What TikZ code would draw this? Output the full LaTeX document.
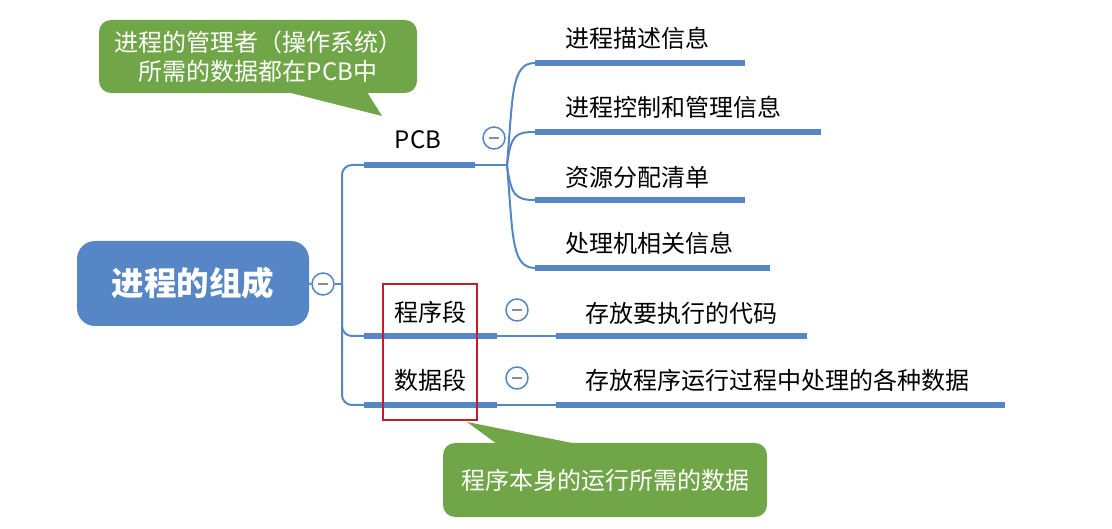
\documentclass[tikz,border=0pt]{standalone}
\usepackage{fontspec}
\setmainfont{Noto Sans CJK SC}
\definecolor{mmblue}{RGB}{86,134,198}
\definecolor{notegreen}{RGB}{112,166,72}
\definecolor{redbox}{RGB}{196,30,45}
\definecolor{minusgray}{RGB}{130,140,165}
\begin{document}
\begin{tikzpicture}[x=1pt,y=-1pt,
  blueline/.style={draw=mmblue, line width=2pt},
  thickline/.style={draw=mmblue, line width=5.8pt},
  collapse/.style={circle, draw=mmblue, fill=white, line width=1.5pt, minimum size=22pt, inner sep=0pt,
    path picture={\draw[line width=1.6pt, minusgray] ([xshift=-5pt]path picture bounding box.center) -- ([xshift=5pt]path picture bounding box.center);}},
  topic/.style={font=\fontsize{24}{28}\selectfont, text=black, inner sep=0pt},
  note/.style={fill=notegreen, rounded corners=12pt, text=white, font=\fontsize{24}{29}\selectfont, align=center, inner sep=0pt},
]
\useasboundingbox (0,0) rectangle (1112,529);

% root
\node[fill=mmblue, rounded corners=18pt, minimum width=232pt, minimum height=85pt, inner sep=0pt,
  text=white, font=\fontsize{32.5}{36}\selectfont\bfseries] (root) at (193,283.5) {进程的组成};
\node[collapse] (rc) at (323,284) {};
\coordinate (tr) at (342,284);

% level-1 anchors
\coordinate (pcbL) at (364,165);
\coordinate (pcbR) at (475,165);
\coordinate (pcbJ) at (507,165);
\coordinate (cxL) at (364,336);
\coordinate (cxR) at (497,336);
\coordinate (sjL) at (364,405);
\coordinate (sjR) at (497,405);

% level-2 anchors
\coordinate (a1L) at (535,63);  \coordinate (a1R) at (745,63);
\coordinate (a2L) at (535,132); \coordinate (a2R) at (821,132);
\coordinate (a3L) at (535,200); \coordinate (a3R) at (745,200);
\coordinate (a4L) at (535,268); \coordinate (a4R) at (770,268);
\coordinate (b1L) at (556,336); \coordinate (b1R) at (807,336);
\coordinate (b2L) at (556,405); \coordinate (b2R) at (1005,405);

% connectors
\draw[blueline] (root.east) -- (rc.west);
\draw[blueline] (rc.east) -- (tr);
\draw[blueline, rounded corners=10pt] (tr) |- (pcbL);
\draw[blueline, rounded corners=10pt] (tr) |- (cxL);
\draw[blueline, rounded corners=10pt] (tr) |- (sjL);
\draw[blueline] (pcbR) -- (pcbJ);
\draw[blueline] (pcbJ) .. controls +(6,-70) and +(-24,0) .. (a1L);
\draw[blueline] (pcbJ) .. controls +(4,-30) and +(-20,0) .. (a2L);
\draw[blueline] (pcbJ) .. controls +(4,30) and +(-20,0) .. (a3L);
\draw[blueline] (pcbJ) .. controls +(6,70) and +(-24,0) .. (a4L);
\draw[blueline] (cxR) -- (b1L);
\draw[blueline] (sjR) -- (b2L);

% underlines
\draw[thickline] (pcbL) -- (pcbR);
\draw[thickline] (cxL) -- (cxR);
\draw[thickline] (sjL) -- (sjR);
\draw[thickline] (a1L) -- (a1R);
\draw[thickline] (a2L) -- (a2R);
\draw[thickline] (a3L) -- (a3R);
\draw[thickline] (a4L) -- (a4R);
\draw[thickline] (b1L) -- (b1R);
\draw[thickline] (b2L) -- (b2R);

% level-1 texts and collapse buttons
\node[topic] (pcb) at (418,140) {PCB};
\node[collapse] (pcbc) at (494,138) {};
\node[topic] (cx) at (430,312) {程序段};
\node[collapse] (cxc) at (517,310) {};
\node[topic] (sj) at (430,380) {数据段};
\node[collapse] (sjc) at (517,378) {};

% level-2 texts
\node[topic, anchor=west] (a1) at (565,38) {进程描述信息};
\node[topic, anchor=west] (a2) at (565,107) {进程控制和管理信息};
\node[topic, anchor=west] (a3) at (565,177) {资源分配清单};
\node[topic, anchor=west] (a4) at (565,243) {处理机相关信息};
\node[topic, anchor=west] (b1) at (585,313) {存放要执行的代码};
\node[topic, anchor=west] (b2) at (585,380) {存放程序运行过程中处理的各种数据};

% highlight box
\node[draw=redbox, line width=2pt, minimum width=94pt, minimum height=136pt, inner sep=0pt] (hl) at (430,352) {};

% callout 1
\node[note, minimum width=318pt, minimum height=73pt] (note1) at (258,56.5) {进程的管理者（操作系统）\\所需的数据都在PCB中};
\coordinate (t1a) at (287,92);
\coordinate (t1b) at (367,92);
\coordinate (t1tip) at (382,116);
\fill[notegreen] (t1a) -- (t1tip) -- (t1b) -- cycle;

% callout 2
\node[note, minimum width=324pt, minimum height=74pt] (note2) at (605,480) {程序本身的运行所需的数据};
\coordinate (t2a) at (497,444);
\coordinate (t2b) at (577,444);
\coordinate (t2tip) at (467,422);
\fill[notegreen] (t2a) -- (t2tip) -- (t2b) -- cycle;
\end{tikzpicture}
\end{document}
